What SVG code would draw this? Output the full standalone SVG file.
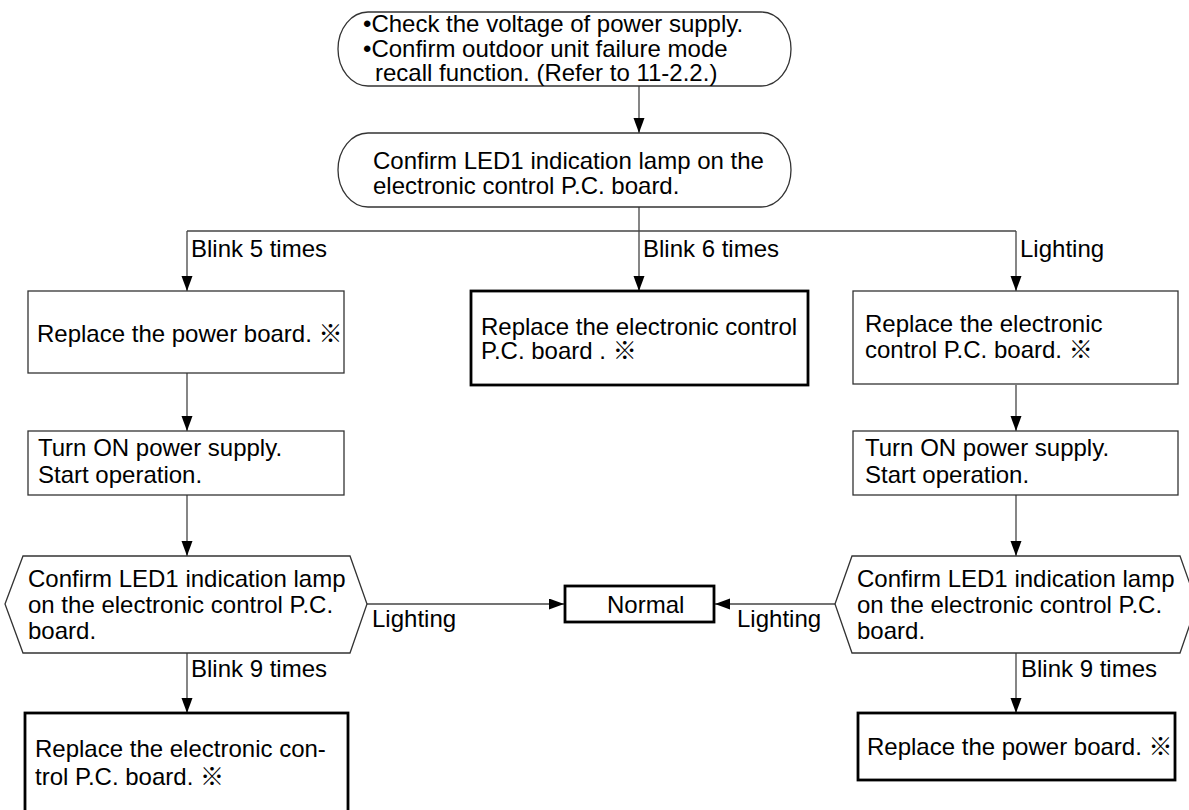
<svg xmlns="http://www.w3.org/2000/svg" width="1189" height="810" viewBox="0 0 1189 810">
  <style>
    text { font-family: "Liberation Sans", Arial, Helvetica, "Noto Sans CJK JP", sans-serif; font-size: 24px; fill: #000; }
    .thin { fill: #fff; stroke: #333; stroke-width: 1.3; }
    .thick { fill: #fff; stroke: #000; stroke-width: 2.8; }
    .conn { fill: none; stroke: #444; stroke-width: 1.3; }
  </style>
  <defs>
    <marker id="arr" markerUnits="userSpaceOnUse" markerWidth="16" markerHeight="12" refX="15" refY="5.5" orient="auto">
      <path d="M0,0 L15,5.5 L0,11 Z" fill="#000"/>
    </marker>
  </defs>
  <rect width="1189" height="810" fill="#fff"/>

  <g id="connectors">
    <path class="conn" d="M639,86 V133" marker-end="url(#arr)"/>
    <path class="conn" d="M639,207 V291" marker-end="url(#arr)"/>
    <path class="conn" d="M187,231 H1016"/>
    <path class="conn" d="M187,231 V291" marker-end="url(#arr)"/>
    <path class="conn" d="M1016,231 V291" marker-end="url(#arr)"/>
    <path class="conn" d="M187,373 V431" marker-end="url(#arr)"/>
    <path class="conn" d="M1016,385 V431" marker-end="url(#arr)"/>
    <path class="conn" d="M187,495 V556" marker-end="url(#arr)"/>
    <path class="conn" d="M1016,495 V556" marker-end="url(#arr)"/>
    <path class="conn" d="M187,653 V713" marker-end="url(#arr)"/>
    <path class="conn" d="M1016,653 V713" marker-end="url(#arr)"/>
    <path class="conn" d="M367,604 H564" marker-end="url(#arr)"/>
    <path class="conn" d="M835,604 H715" marker-end="url(#arr)"/>
    <text x="191" y="257">Blink 5 times</text>
    <text x="643" y="257">Blink 6 times</text>
    <text x="1020" y="257">Lighting</text>
    <text x="372" y="627">Lighting</text>
    <text x="737" y="627">Lighting</text>
    <text x="191" y="677">Blink 9 times</text>
    <text x="1021" y="677">Blink 9 times</text>
  </g>

  <g id="start">
    <rect class="thin" x="338" y="12" width="453" height="74" rx="30" ry="37"/>
    <text x="363" y="32">•Check the voltage of power supply.</text>
    <text x="363" y="57">•Confirm outdoor unit failure mode</text>
    <text x="375" y="81">recall function. (Refer to 11-2.2.)</text>
  </g>

  <g id="confirm-led1">
    <rect class="thin" x="338" y="133" width="453" height="74" rx="30" ry="37"/>
    <text x="373" y="169">Confirm LED1 indication lamp on the</text>
    <text x="373" y="194">electronic control P.C. board.</text>
  </g>

  <g id="replace-power-left">
    <rect class="thin" x="28" y="291" width="316" height="82"/>
    <text x="37" y="342">Replace the power board. ※</text>
  </g>

  <g id="replace-pcb-middle">
    <rect class="thick" x="471" y="291" width="337" height="94"/>
    <text x="481" y="335">Replace the electronic control</text>
    <text x="481" y="359">P.C. board . ※</text>
  </g>

  <g id="replace-pcb-right">
    <rect class="thin" x="853" y="291" width="325" height="93"/>
    <text x="865" y="332">Replace the electronic</text>
    <text x="865" y="358">control P.C. board. ※</text>
  </g>

  <g id="turn-on-left">
    <rect class="thin" x="28" y="431" width="316" height="64"/>
    <text x="38" y="456">Turn ON power supply.</text>
    <text x="38" y="483">Start operation.</text>
  </g>

  <g id="turn-on-right">
    <rect class="thin" x="853" y="431" width="325" height="64"/>
    <text x="865" y="456">Turn ON power supply.</text>
    <text x="865" y="483">Start operation.</text>
  </g>

  <g id="confirm-left">
    <polygon class="thin" points="5,604 23,556 350,556 367,604 350,653 23,653"/>
    <text x="28" y="587">Confirm LED1 indication lamp</text>
    <text x="28" y="613">on the electronic control P.C.</text>
    <text x="28" y="639">board.</text>
  </g>

  <g id="confirm-right">
    <polygon class="thin" points="835,604 852,556 1180,556 1197,604 1180,653 852,653"/>
    <text x="857" y="587">Confirm LED1 indication lamp</text>
    <text x="857" y="613">on the electronic control P.C.</text>
    <text x="857" y="639">board.</text>
  </g>

  <g id="normal">
    <rect class="thick" x="565" y="586" width="149" height="36"/>
    <text x="607" y="613">Normal</text>
  </g>

  <g id="replace-pcb-bottom-left">
    <rect class="thick" x="25" y="713" width="323" height="120"/>
    <text x="35" y="757">Replace the electronic con-</text>
    <text x="35" y="785">trol P.C. board. ※</text>
  </g>

  <g id="replace-power-bottom-right">
    <rect class="thick" x="858" y="713" width="317" height="67"/>
    <text x="867" y="755">Replace the power board. ※</text>
  </g>
</svg>
